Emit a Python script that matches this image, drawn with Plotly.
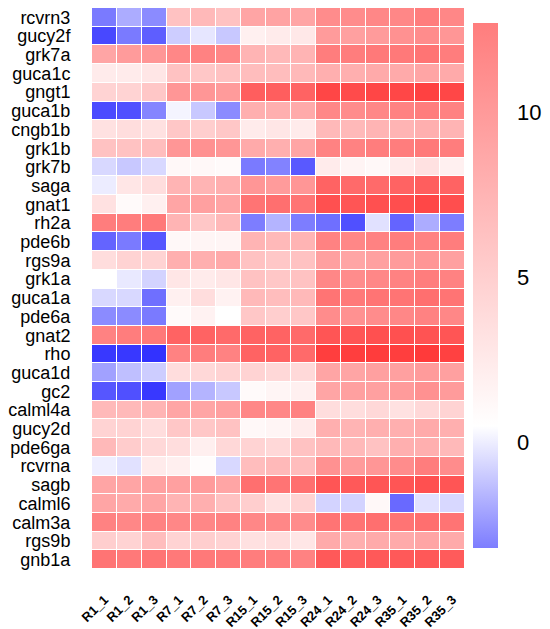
import plotly.graph_objects as go

genes = ["rcvrn3", "gucy2f", "grk7a", "guca1c", "gngt1", "guca1b", "cngb1b", "grk1b",
         "grk7b", "saga", "gnat1", "rh2a", "pde6b", "rgs9a", "grk1a", "guca1a", "pde6a",
         "gnat2", "rho", "guca1d", "gc2", "calml4a", "gucy2d", "pde6ga", "rcvrna", "sagb",
         "calml6", "calm3a", "rgs9b", "gnb1a"]

samples = ["R1_1", "R1_2", "R1_3", "R7_1", "R7_2", "R7_3", "R15_1", "R15_2", "R15_3",
           "R24_1", "R24_2", "R24_3", "R35_1", "R35_2", "R35_3"]

# expression per time point, one triplet per gene (same order as genes)
r1 = [[-1.9, -1.0, -1.6], [-2.8, -1.9, -2.4], [6.0, 6.6, 6.9], [1.7, 1.7, 2.0],
      [3.2, 3.2, 3.9], [-2.75, -2.65, -1.7], [2.3, 2.6, 2.3], [4.2, 4.2, 4.5],
      [-0.2, -0.5, -0.2], [0.15, 2.0, 2.6], [2.3, 0.8, 1.4], [8.4, 8.4, 8.7],
      [-2.3, -1.9, -2.55], [2.6, 3.2, 3.2], [0.5, 0.1, -0.3], [-0.2, -0.2, -2.1],
      [-1.6, -1.6, -1.9], [8.1, 8.4, 8.7], [-3.1, -3.1, -3.2], [-1.2, -0.65, -0.4],
      [-2.55, -2.65, -3.1], [4.8, 4.8, 5.1], [3.2, 3.2, 2.6], [4.8, 3.6, 2.9],
      [0.2, -0.05, 1.7], [6.0, 6.0, 6.3], [6.0, 5.7, 6.0], [8.1, 7.8, 8.1],
      [3.5, 3.2, 4.5], [9.0, 8.7, 9.0]]
r7 = [[4.2, 4.8, 4.2], [-0.4, 0.05, -0.5], [7.8, 8.1, 7.8], [4.2, 3.9, 4.2],
      [6.9, 6.9, 6.6], [0.3, -0.5, -1.6], [3.9, 3.5, 3.9], [6.9, 7.2, 6.9],
      [0.9, 0.9, 0.8], [5.1, 5.1, 5.4], [6.0, 6.3, 6.0], [5.1, 3.9, 4.8],
      [0.9, 1.1, 1.1], [5.4, 5.4, 5.7], [2.0, 1.7, 2.0], [1.4, 2.6, 1.3],
      [0.8, 1.3, 0.5], [10.0, 10.0, 9.6], [8.1, 8.4, 8.1], [2.6, 2.9, 3.2],
      [-1.2, -0.85, -0.5], [6.0, 6.0, 6.3], [3.9, 3.9, 4.2], [2.6, 1.5, 2.9],
      [1.5, 0.7, -0.2], [6.3, 6.6, 6.0], [5.1, 5.4, 4.2], [7.8, 7.8, 8.1],
      [3.2, 3.5, 3.2], [8.7, 8.7, 8.7]]
r15 = [[6.0, 6.1, 6.0], [1.4, 1.7, 1.9], [5.1, 4.8, 5.1], [4.5, 4.5, 4.8],
       [10.3, 10.3, 10.0], [5.4, 5.4, 5.7], [1.7, 2.0, 1.7], [5.7, 5.4, 6.0],
       [-1.9, -1.75, -2.5], [6.9, 6.6, 6.9], [9.0, 9.3, 9.0], [-1.85, -0.85, -1.85],
       [5.1, 4.8, 5.1], [4.2, 3.9, 4.2], [4.2, 3.9, 4.2], [4.8, 4.5, 4.8],
       [3.9, 3.5, 3.9], [10.0, 10.0, 9.6], [10.0, 10.0, 9.6], [3.2, 2.9, 2.8],
       [0.8, 1.1, 1.4], [7.8, 7.8, 8.1], [0.9, 1.1, 1.7], [3.2, 2.9, 4.2],
       [4.5, 4.8, 4.5], [9.3, 9.0, 9.3], [3.5, 2.3, 3.2], [7.8, 7.8, 7.5],
       [2.3, 2.6, 2.0], [8.4, 8.4, 8.1]]
r24 = [[7.5, 7.5, 7.8], [6.6, 6.3, 6.6], [8.4, 8.4, 8.7], [5.4, 5.4, 5.7],
       [11.8, 11.5, 11.8], [7.8, 7.5, 7.8], [4.8, 4.8, 5.1], [8.1, 8.1, 8.4],
       [1.7, 1.2, 0.9], [10.0, 9.6, 9.6], [11.2, 10.9, 11.2], [-2.1, -2.65, -0.05],
       [8.1, 7.8, 8.1], [6.3, 6.0, 6.3], [7.8, 7.5, 7.8], [9.0, 8.7, 9.0],
       [7.5, 7.2, 7.5], [10.9, 10.9, 11.2], [12.3, 12.3, 12.4], [6.0, 6.0, 6.3],
       [6.0, 6.3, 6.3], [2.6, 2.6, 2.9], [5.4, 5.1, 5.4], [4.8, 4.8, 4.2],
       [7.2, 6.6, 6.9], [10.9, 10.6, 10.9], [-0.3, -0.3, 0.9], [9.0, 9.0, 9.3],
       [5.7, 5.4, 5.7], [10.6, 10.3, 10.6]]
r35 = [[7.8, 8.4, 7.8], [7.2, 7.5, 6.9], [8.7, 9.0, 8.4], [5.7, 6.0, 5.7],
       [11.7, 12.1, 11.7], [8.1, 8.4, 8.1], [5.1, 5.4, 5.1], [8.4, 8.7, 8.4],
       [1.7, 2.3, 1.4], [10.0, 10.3, 10.0], [11.3, 11.7, 11.3], [-2.3, -1.0, -1.85],
       [8.4, 8.1, 8.4], [6.6, 6.9, 6.3], [8.1, 8.4, 8.1], [9.0, 9.3, 9.0],
       [7.8, 8.1, 7.8], [11.2, 11.0, 10.9], [12.3, 12.5, 12.1], [6.3, 6.6, 6.3],
       [6.6, 7.2, 6.6], [2.3, 2.9, 3.2], [5.4, 5.7, 5.4], [5.4, 5.4, 4.8],
       [7.5, 8.4, 7.5], [10.9, 11.2, 10.9], [-2.2, -0.05, -0.2], [9.0, 9.3, 9.0],
       [5.7, 6.0, 5.7], [10.6, 10.7, 10.5]]

zmin, zmax, zwhite = -3.2, 12.7, 0.5
pw = (zwhite - zmin) / (zmax - zmin)

z = [a + b + c + d + e for a, b, c, d, e in zip(r1, r7, r15, r24, r35)]

cell_scale = [[0, "rgb(50,50,255)"], [pw, "rgb(255,255,255)"], [1, "rgb(255,55,55)"]]
bar_scale = [[0, "rgb(125,125,255)"], [pw, "rgb(255,255,255)"], [1, "rgb(255,125,125)"]]

fig = go.Figure()
fig.add_trace(go.Heatmap(
    z=z, x=samples, y=genes, zmin=zmin, zmax=zmax, colorscale=cell_scale,
    xgap=1, ygap=1, showscale=False,
))
# lighter colour bar, as in the original figure
fig.add_trace(go.Scatter(
    x=[None], y=[None], mode="markers", showlegend=False, hoverinfo="skip",
    marker=dict(
        color=[zmin], cmin=zmin, cmax=zmax, colorscale=bar_scale, showscale=True,
        colorbar=dict(
            thickness=25, lenmode="pixels", len=525, x=1.0214, xanchor="left", xpad=0,
            y=0.5053, yanchor="middle", ypad=0, outlinewidth=0,
            tickvals=[0, 5, 10], ticks="outside", ticklen=15,
            tickcolor="rgba(0,0,0,0)", tickfont=dict(size=22, color="black"),
        ),
    ),
))

fig.update_xaxes(
    tickangle=-45, ticks="outside", ticklen=17, tickcolor="rgba(0,0,0,0)",
    tickfont=dict(size=13, color="black", weight="bold"), showgrid=False, zeroline=False,
)
fig.update_yaxes(
    autorange="reversed", tickmode="linear", dtick=1,
    ticks="outside", ticklen=17, tickcolor="rgba(0,0,0,0)",
    tickfont=dict(size=18, color="black"), showgrid=False, zeroline=False,
)
fig.update_layout(
    width=550, height=629,
    margin=dict(l=84, r=93, t=0, b=68, autoexpand=False),
    font=dict(family="Arial, Liberation Sans, sans-serif"),
    plot_bgcolor="white", paper_bgcolor="white",
)

fig.write_html("out.html")
